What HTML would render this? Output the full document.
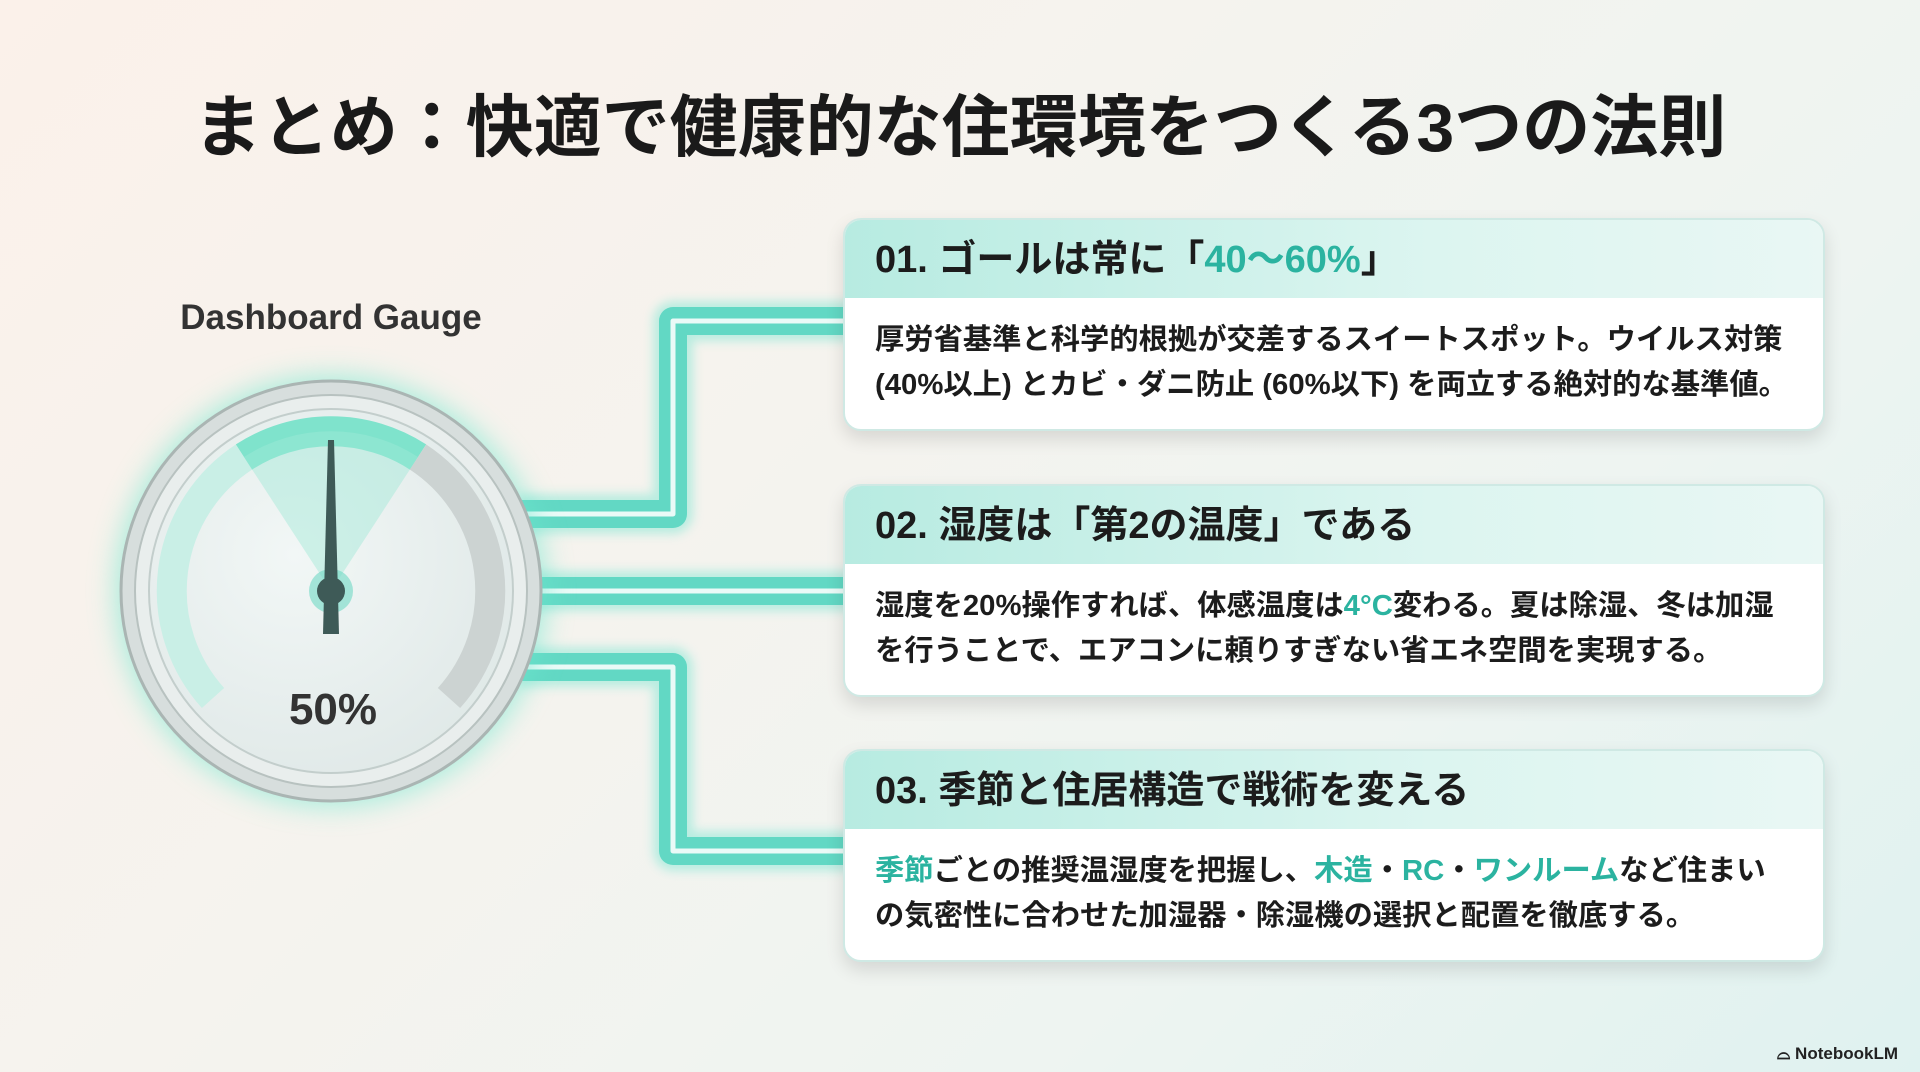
<!DOCTYPE html>
<html><head><meta charset="utf-8"><style>
html,body{margin:0;padding:0}
body{width:1920px;height:1072px;overflow:hidden;position:relative;font-family:"Liberation Sans","Noto Sans CJK JP",sans-serif;
background:linear-gradient(135deg,#fbf1ea 0%,#f5f3ee 40%,#eef4f1 70%,#dff2f0 100%);}
.title{position:absolute;left:0;width:1920px;top:72px;text-align:center;font-size:68px;font-weight:bold;color:#1a1a1a;letter-spacing:0px}
.card{position:absolute;left:843px;width:978px;background:#fff;border-radius:18px;border:2px solid #cfe9e4;box-shadow:0 8px 18px rgba(0,0,0,0.12);overflow:hidden}
.card .hd{height:78px;background:linear-gradient(90deg,#b7ebe1,#dcf5f0 60%,#e9f7f4);font-size:38px;font-weight:bold;color:#1c1c1c;line-height:80px;padding-left:30px;white-space:nowrap}
.card .bd{padding:20px 0 0 30px;font-size:29px;font-weight:bold;color:#1c1c1c;line-height:45px;white-space:nowrap}
.bd div{transform:scaleX(1.01);transform-origin:left}
.t{color:#2bb3a0}
.dg{position:absolute;left:140px;width:382px;text-align:center;top:298px;font-size:35px;font-weight:bold;color:#333}
.nb{position:absolute;right:22px;bottom:8px;font-size:17px;color:#222;font-weight:bold}
</style></head><body>
<div class="title">まとめ：快適で健康的な住環境をつくる3つの法則</div>
<div class="dg">Dashboard Gauge</div>

<svg width="1920" height="1072" style="position:absolute;left:0;top:0">
<defs>
<filter id="gl" x="-50%" y="-50%" width="200%" height="200%"><feGaussianBlur stdDeviation="14"/></filter>
<filter id="gl2" x="-20%" y="-20%" width="140%" height="140%"><feGaussianBlur stdDeviation="5"/></filter>
<radialGradient id="face" cx="0.4" cy="0.4" r="0.7"><stop offset="0" stop-color="#f2f7f6"/><stop offset="1" stop-color="#dfe8e7"/></radialGradient>
</defs>
<g fill="none" stroke-linejoin="round">
<g stroke="#7ee6d3" stroke-width="40" opacity="0.5" filter="url(#gl2)">
<path d="M520 514 H673 V321 H850"/><path d="M520 591 H850"/><path d="M520 667 H673 V851 H850"/>
</g>
<g stroke="#62d8c4" stroke-width="28">
<path d="M520 514 H673 V321 H850"/><path d="M520 591 H850"/><path d="M520 667 H673 V851 H850"/>
</g>
<g stroke="#eafaf7" stroke-width="5">
<path d="M520 514 H673 V321 H850"/><path d="M520 591 H850"/><path d="M520 667 H673 V851 H850"/>
</g>
</g>
<circle cx="331" cy="591" r="215" fill="#6ee8cf" opacity="0.6" filter="url(#gl)"/>
<circle cx="331" cy="591" r="210" fill="#d7dedd" stroke="#aab5b3" stroke-width="3"/>
<circle cx="331" cy="591" r="196" fill="#e9eeed" stroke="#b8c2c0" stroke-width="2"/>
<circle cx="331" cy="591" r="182" fill="url(#face)" stroke="#c3cecc" stroke-width="2"/>
<g fill="none" stroke-width="30">
<path d="M 213 698 A 160 160 0 0 1 244 457" stroke="#c9efe6"/>
<path d="M 244 457 A 160 160 0 0 1 418 457" stroke="#7fe3cc"/>
<path d="M 418 457 A 160 160 0 0 1 449 698" stroke="#ccd3d2"/>
</g>
<path d="M331 591 L244 457 A160 160 0 0 1 418 457 Z" fill="#9fe9d6" opacity="0.45"/>
<circle cx="331" cy="591" r="22" fill="#6fd8c4" opacity="0.6"/>
<polygon points="328,440 334,440 339,634 323,634" fill="#3e5a57"/>
<circle cx="331" cy="591" r="14" fill="#3e5a57"/>
<text x="333" y="724" text-anchor="middle" font-family="Liberation Sans, sans-serif" font-size="44" font-weight="bold" fill="#333">50%</text>
</svg>

<div class="card" style="top:218px;height:209px">
<div class="hd">01. ゴールは常に「<span class="t">40〜60%</span>」</div>
<div class="bd"><div>厚労省基準と科学的根拠が交差するスイートスポット。ウイルス対策</div><div>(40%以上) とカビ・ダニ防止 (60%以下) を両立する絶対的な基準値。</div></div>
</div>
<div class="card" style="top:484px;height:209px">
<div class="hd">02. 湿度は「第2の温度」である</div>
<div class="bd"><div>湿度を20%操作すれば、体感温度は<span class="t">4°C</span>変わる。夏は除湿、冬は加湿</div><div>を行うことで、エアコンに頼りすぎない省エネ空間を実現する。</div></div>
</div>
<div class="card" style="top:749px;height:209px">
<div class="hd">03. 季節と住居構造で戦術を変える</div>
<div class="bd"><div><span class="t">季節</span>ごとの推奨温湿度を把握し、<span class="t">木造</span>・<span class="t">RC</span>・<span class="t">ワンルーム</span>など住まい</div><div>の気密性に合わせた加湿器・除湿機の選択と配置を徹底する。</div></div>
</div>
<div class="nb">⌓ NotebookLM</div>
</body></html>
